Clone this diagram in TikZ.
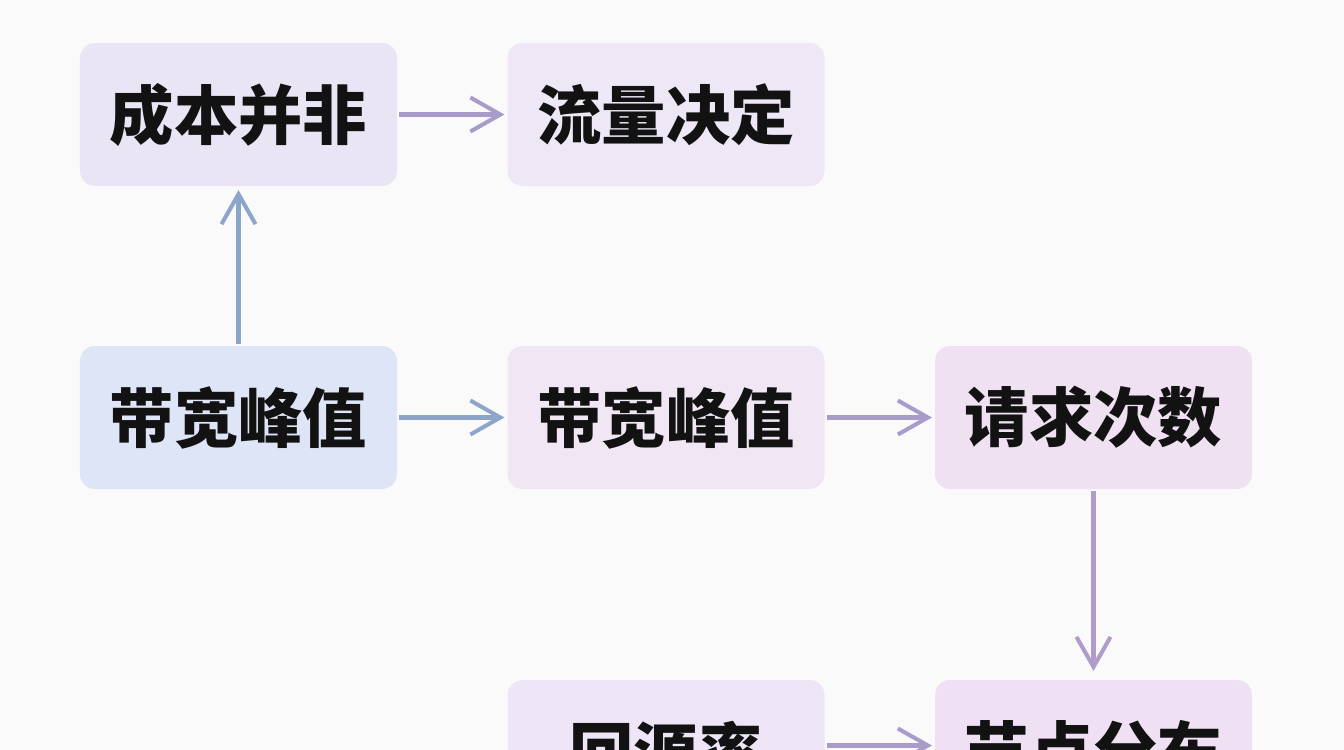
\documentclass[tikz,border=0pt]{standalone}
\usepackage{fontspec}
\newfontfamily\cjk{Noto Sans CJK SC}
\usetikzlibrary{arrows.meta}
\definecolor{bg}{HTML}{FAFAFB}
\definecolor{costc}{HTML}{E9E5F5}
\definecolor{flowc}{HTML}{EEE7F6}
\definecolor{peakac}{HTML}{DEE5F6}
\definecolor{peakbc}{HTML}{F0E6F4}
\definecolor{reqc}{HTML}{F0E1F2}
\definecolor{backc}{HTML}{EEE6F6}
\definecolor{nodec}{HTML}{EFE0F3}
\definecolor{arrp}{HTML}{A99BCA}
\definecolor{arrb}{HTML}{8CA6C9}
\definecolor{arrq}{HTML}{B09CCB}
\begin{document}
\begin{tikzpicture}[-{Straight Barb[length=0.3cm, width=0.34cm]}, line width=1.15pt]
\tikzset{box/.style={rounded corners=0.15cm, minimum width=3.17cm, minimum height=1.43cm, inner sep=0pt, font=\cjk\bfseries\fontsize{18.3pt}{20pt}\selectfont, text=black!93}}
\fill[bg] (0,0) rectangle (13.44,-7.5);
\useasboundingbox (0,0) rectangle (13.44,-7.5);
\node[box, fill=costc]  (cost)  at (2.385,-1.145) {成本并非};
\node[box, fill=flowc]  (flow)  at (6.66,-1.145)  {流量决定};
\node[box, fill=peakac] (peaka) at (2.385,-4.175) {带宽峰值};
\node[box, fill=peakbc] (peakb) at (6.66,-4.175)  {带宽峰值};
\node[box, fill=reqc]   (req)   at (10.935,-4.175) {请求次数};
\node[box, fill=backc]  (back)  at (6.66,-7.515)  {回源率};
\node[box, fill=nodec]  (dist)  at (10.935,-7.515) {节点分布};
\path (cost) edge [arrp, shorten >=0.01cm] (flow);
\path (peaka) edge [arrb, shorten >=0.02cm] (cost);
\path (peaka) edge [arrb, shorten >=0.01cm] (peakb);
\path (peakb) edge [arrp, shorten >=0.01cm] (req);
\path (req) edge [arrq, shorten >=0.07cm] (dist);
\path ([yshift=0.06cm]back.east) edge [arrp, shorten >=0.01cm] ([yshift=0.06cm]dist.west);
\end{tikzpicture}
\end{document}
